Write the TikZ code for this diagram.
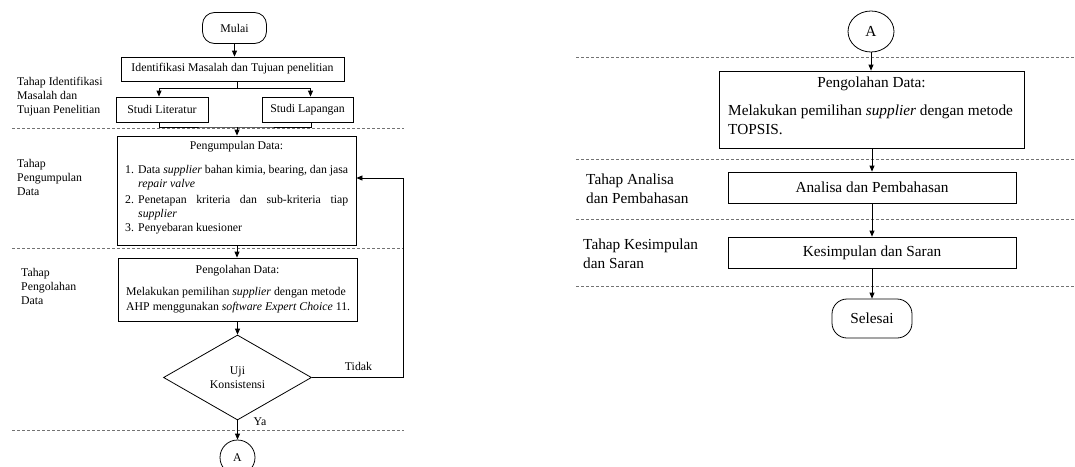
\documentclass[tikz,border=0pt]{standalone}
\usepackage{fontspec}
\setmainfont{Liberation Serif}
\usetikzlibrary{arrows.meta,shapes.geometric}
\begin{document}
\begin{tikzpicture}[x=1pt,y=-1pt,
  box/.style={draw, line width=0.8pt, inner sep=0pt},
  arr/.style={-{Triangle[length=6pt,width=5pt]}, line width=0.8pt},
  ln/.style={line width=0.8pt},
  sep/.style={black!55, dash pattern=on 3pt off 2pt, line width=0.8pt},
  lf/.style={font=\fontsize{11.8}{14.4}\selectfont},
  rf/.style={font=\fontsize{15.3}{19}\selectfont},
  txt/.style={inner sep=0pt, text height=0.7em, text depth=0.2em},
  lab/.style={inner sep=0pt, anchor=west, align=left},
]
\useasboundingbox (0,0) rectangle (1075,466);

% ---------- separators ----------
\draw[sep] (12,128) -- (404,128);
\draw[sep] (12,248) -- (404,248);
\draw[sep] (12,430) -- (404,430);
\draw[sep] (576,57) -- (1074,57);
\draw[sep] (576,159) -- (1074,159);
\draw[sep] (576,219) -- (1074,219);
\draw[sep] (576,286) -- (1074,286);

% ---------- left column ----------
\node[box, lf, rounded corners=12pt, minimum width=64pt, minimum height=31pt] (mulai) at (234.5,28) {Mulai};
\node[box, lf, minimum width=223pt, minimum height=24pt] (ident) at (232.5,69) {Identifikasi Masalah dan Tujuan penelitian};
\node[box, lf, minimum width=92pt, minimum height=25pt] (lit) at (162,109.5) {Studi Literatur};
\node[box, lf, minimum width=91pt, minimum height=25pt] (lap) at (307.5,109.5) {Studi Lapangan};

\node[box, minimum width=239pt, minimum height=109pt] (kumpul) at (236.5,190.5) {};
\node[txt, lf] (k0) at (236.5,147) {Pengumpulan Data:};
\node[txt, lf, anchor=west] (k1n) at (125,171) {1.};
\node[txt, lf, anchor=west] (k1) at (138,171) {\makebox[210pt][s]{Data \textit{supplier} bahan kimia, bearing, dan jasa}};
\node[txt, lf, anchor=west] (k1b) at (138,185) {\textit{repair valve}};
\node[txt, lf, anchor=west] (k2n) at (125,201) {2.};
\node[txt, lf, anchor=west] (k2) at (138,201) {\makebox[210pt][s]{Penetapan kriteria dan sub-kriteria tiap}};
\node[txt, lf, anchor=west] (k2b) at (138,215) {\textit{supplier}};
\node[txt, lf, anchor=west] (k3n) at (125,229) {3.};
\node[txt, lf, anchor=west] (k3) at (138,229) {Penyebaran kuesioner};

\node[box, minimum width=239pt, minimum height=63pt] (olah) at (237.5,289.5) {};
\node[txt, lf] (o0) at (237.5,271) {Pengolahan Data:};
\node[txt, lf, anchor=west] (o1) at (126,293) {Melakukan pemilihan \textit{supplier} dengan metode};
\node[txt, lf, anchor=west] (o2) at (126,308) {AHP menggunakan \textit{software Expert Choice} 11.};

\node[draw, line width=0.8pt, diamond, shape aspect=1.74, minimum width=148pt, minimum height=85pt, inner sep=0pt, lf, align=center] (uji) at (237.5,377.5) {Uji\\Konsistensi};
\node[draw, line width=0.8pt, circle, minimum size=35pt, inner sep=0pt, lf] (a1) at (237.5,457.5) {A};

\node[txt, lf] (tidak) at (358.5,368) {Tidak};
\node[txt, lf] (ya) at (260,423) {Ya};

% left labels
\node[lab, lf] (l1) at (17,96.5) {Tahap Identifikasi\\Masalah dan\\Tujuan Penelitian};
\node[lab, lf] (l2) at (17,177.5) {Tahap\\Pengumpulan\\Data};
\node[lab, lf] (l3) at (21,286.5) {Tahap\\Pengolahan\\Data};

% left connectors
\coordinate (j1) at (237,88);
\coordinate (j2) at (237,127);
\coordinate (t1) at (403,377.5);
\coordinate (t2) at (403,178);
\draw[arr] (mulai.south) -- (mulai.south |- ident.north);
\draw[ln] (ident.south -| j1) -- (j1);
\draw[arr] (j1) -| ([xshift=-3pt]lit.north);
\draw[arr] (j1) -| ([xshift=3pt]lap.north);
\draw[ln] ([xshift=-3pt]lit.south) |- (j2) -| ([xshift=4pt]lap.south);
\draw[arr] (j2) -- (j2 |- kumpul.north);
\draw[arr] (kumpul.south -| j2) -- (j2 |- olah.north);
\draw[arr] (olah.south -| uji.north) -- (uji.north);
\draw[arr] (uji.south) -- (a1.north);
\draw[arr] (uji.east) -- (t1) -- (t2) -- (t2 -| kumpul.east);

% ---------- right column ----------
\node[draw, line width=0.8pt, ellipse, minimum width=46pt, minimum height=41pt, inner sep=0pt, rf] (a2) at (871,31.5) {A};
\node[box, minimum width=305pt, minimum height=77pt] (olah2) at (871.5,109.5) {};
\node[txt, rf] (p0) at (871.5,85) {Pengolahan Data:};
\node[txt, rf, anchor=west] (p1) at (728,113) {Melakukan pemilihan \textit{supplier} dengan metode};
\node[txt, rf, anchor=west] (p2) at (728,132) {TOPSIS.};
\node[box, rf, minimum width=288pt, minimum height=31pt] (anal) at (872,187.5) {Analisa dan Pembahasan};
\node[box, rf, minimum width=288pt, minimum height=31pt] (kes) at (872,252.5) {Kesimpulan dan Saran};
\node[box, rf, rounded corners=15pt, minimum width=80pt, minimum height=39pt] (sel) at (872,318.5) {Selesai};

\node[lab, rf] (r1) at (586,188.5) {Tahap Analisa\\dan Pembahasan};
\node[lab, rf] (r2) at (583,253.5) {Tahap Kesimpulan\\dan Saran};

\draw[arr] (a2.south) -- (a2.south |- olah2.north);
\draw[arr] (olah2.south -| anal.north) -- (anal.north);
\draw[arr] (anal) -- (kes);
\draw[arr] (kes) -- (sel);
\end{tikzpicture}
\end{document}
